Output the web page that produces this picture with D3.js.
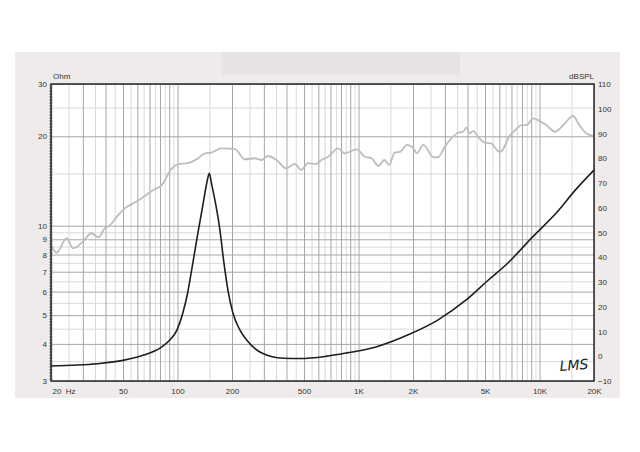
<!DOCTYPE html>
<html>
<head>
<meta charset="utf-8">
<script src="https://cdn.jsdelivr.net/npm/d3@7"></script>
<style>
  body { margin: 0; background: #fff; }
  svg { display: block; }
  .tick text { font: 8px "Liberation Sans", Arial, sans-serif; fill: #333; }
  .grid .domain { display: none; }
  .grid.major line { stroke: #a6a6a6; }
  .grid.minor line { stroke: #d9d9d9; }
  .lbl .domain, .lbl line { display: none; }
</style>
</head>
<body>
<svg width="640" height="452"></svg>
<script>
// frequency response (grey) - Hz / dBSPL
var splFreq = [20, 21.5, 24.4, 26.5, 30, 33.4, 36.6, 39.6, 42.4, 46.2, 51.2, 59.2, 65.3, 74.7, 81, 93, 101, 114, 130, 142, 154, 175, 208,
  235, 267, 291, 316, 352, 400, 444, 483, 525, 584, 624, 679, 772, 840, 976, 1085, 1180, 1285, 1390, 1475, 1585, 1700, 1850, 2010,
  2100, 2280, 2600, 2750, 3000, 3200, 3550, 3780, 3950, 4100, 4300, 4570, 4970, 5400, 5990, 6250, 6780, 7350, 7980, 8500, 9230, 9900,
  10900, 12200, 13800, 15300, 16600, 18100, 20000];
var splDb = [45, 41.8, 47.7, 43.6, 46.3, 49.7, 48.1, 51.7, 53, 56.4, 59.8, 62.4, 64.5, 67.5, 68.8, 75.9, 77.6, 78, 80, 82, 82.3, 84, 83.7,
  79.6, 80, 79.3, 80.9, 79.3, 75.9, 77.7, 75.3, 78, 77.7, 79.3, 80.6, 84, 82, 83.6, 80.6, 80, 76.9, 79.3, 77.3, 82.3, 82.6, 85.4, 84,
  82, 85.4, 80.4, 80.4, 84.7, 87.4, 90.3, 90.7, 92.5, 90.1, 91.1, 88.7, 86.3, 86, 82.6, 83.3, 88.7, 91.4, 93.4, 93.4, 96.1, 95.2,
  93.4, 90.7, 94.1, 97.1, 93.4, 90.1, 89];

// impedance (black) - Hz / Ohm
var impFreq = [20, 36, 50, 65, 80, 90.7, 99.4, 107, 114, 121, 129, 138, 145, 150, 154, 163, 171, 180.5, 190, 202, 221, 241, 294, 383, 478,
  657, 862, 1235, 1895, 2740, 3900, 5180, 6780, 9050, 12400, 15800, 20000];
var impOhm = [3.37, 3.43, 3.52, 3.67, 3.87, 4.12, 4.46, 5.08, 5.98, 7.37, 9.3, 11.7, 13.9, 15.0, 13.9, 11.7, 9.8, 7.5, 6.06, 5.1, 4.46, 4.12, 3.72, 3.58, 3.57,
  3.63, 3.73, 3.9, 4.3, 4.81, 5.6, 6.54, 7.55, 9.1, 11.05, 13.2, 15.4];

var freqTicks = [20, 50, 100, 200, 500, 1000, 2000, 5000, 10000, 20000];
var freqLabels = ["20  Hz", "50", "100", "200", "500", "1K", "2K", "5K", "10K", "20K"];
var ohmTicks = [3, 4, 5, 6, 7, 8, 9, 10, 20, 30];
var dbTicks = [-10, 0, 10, 20, 30, 40, 50, 60, 70, 80, 90, 100, 110];

var svg = d3.select("svg"),
    margin = {top: 84, right: 46, bottom: 71, left: 51},
    width = svg.attr("width") - margin.left - margin.right,
    height = svg.attr("height") - margin.top - margin.bottom;

// grey panel behind the chart
svg.append("rect").attr("x", 15).attr("y", 52).attr("width", 605).attr("height", 346).attr("fill", "#efebeb");
svg.append("rect").attr("x", 222).attr("y", 52).attr("width", 238).attr("height", 23).attr("fill", "#e7e3e3");

var g = svg.append("g").attr("transform", "translate(" + margin.left + "," + margin.top + ")");

var x = d3.scaleLog().domain([20, 20000]).range([0, width]),
    yL = d3.scaleLog().domain([3, 30]).range([height, 0]),
    yR = d3.scaleLinear().domain([-10, 110]).range([height, 0]);

g.append("rect").attr("width", width).attr("height", height).attr("fill", "#fff");

// grid values: 1..9 per decade (major) and the halves in between (minor)
var majorF = [], minorF = [];
[10, 100, 1000, 10000].forEach(function(d) {
  for (var k = 1; k <= 9; k++) {
    if (d * k >= 20 && d * k <= 20000) majorF.push(d * k);
    if (d * (k + 0.5) > 20 && d * (k + 0.5) < 20000) minorF.push(d * (k + 0.5));
  }
});
var majorO = [3, 4, 5, 6, 7, 8, 9, 10, 20, 30],
    minorO = [3.5, 4.5, 5.5, 6.5, 7.5, 8.5, 9.5, 15, 25];

g.append("g").attr("class", "grid minor").attr("transform", "translate(0," + height + ")")
  .call(d3.axisBottom(x).tickValues(minorF).tickSize(-height).tickFormat(""));
g.append("g").attr("class", "grid minor")
  .call(d3.axisLeft(yL).tickValues(minorO).tickSize(-width).tickFormat(""));
g.append("g").attr("class", "grid major").attr("transform", "translate(0," + height + ")")
  .call(d3.axisBottom(x).tickValues(majorF).tickSize(-height).tickFormat(""));
g.append("g").attr("class", "grid major")
  .call(d3.axisLeft(yL).tickValues(majorO).tickSize(-width).tickFormat(""));

// curves
var spl = splFreq.map(function(f, i) { return {f: f, v: splDb[i]}; });
var imp = impFreq.map(function(f, i) { return {f: f, v: impOhm[i]}; });

g.append("path")
  .datum(spl)
  .attr("fill", "none")
  .attr("stroke", "#bdbdbd")
  .attr("stroke-width", 1.8)
  .attr("d", d3.line().curve(d3.curveMonotoneX)
    .x(function(d) { return x(d.f); })
    .y(function(d) { return yR(d.v); }));

g.append("path")
  .datum(imp)
  .attr("fill", "none")
  .attr("stroke", "#1e1e1e")
  .attr("stroke-width", 1.6)
  .attr("d", d3.line().curve(d3.curveMonotoneX)
    .x(function(d) { return x(d.f); })
    .y(function(d) { return yL(d.v); }));

// frame
g.append("rect").attr("width", width).attr("height", height)
  .attr("fill", "none").attr("stroke", "#2a2a2a").attr("stroke-width", 1.5);
g.append("line").attr("x1", 0).attr("x2", 0).attr("y1", 0).attr("y2", height)
  .attr("stroke", "#444").attr("stroke-width", 2.5).attr("stroke-dasharray", "2,1");

// axis labels
g.append("g").attr("class", "lbl")
  .call(d3.axisLeft(yL).tickValues(ohmTicks).tickSize(0).tickPadding(4).tickFormat(d3.format("d")));
g.append("g").attr("class", "lbl").attr("transform", "translate(" + width + ",0)")
  .call(d3.axisRight(yR).tickValues(dbTicks).tickSize(0).tickPadding(4).tickFormat(d3.format("d")));
var bx = g.append("g").attr("class", "lbl").attr("transform", "translate(0," + height + ")")
  .call(d3.axisBottom(x).tickValues(freqTicks).tickSize(0).tickPadding(7)
    .tickFormat(function(d, i) { return freqLabels[i]; }));
bx.selectAll(".tick text").filter(function(d, i) { return i === 0; })
  .attr("text-anchor", "start").attr("x", 1).style("white-space", "pre");

g.append("text").attr("x", 2).attr("y", -5)
  .style("font", "8px 'Liberation Sans', Arial, sans-serif").attr("fill", "#333").text("Ohm");
g.append("text").attr("x", width).attr("y", -5).attr("text-anchor", "end")
  .style("font", "8px 'Liberation Sans', Arial, sans-serif").attr("fill", "#333").text("dBSPL");

// signature
g.append("text").attr("x", width - 34).attr("y", height - 10)
  .style("font", "italic 14px 'DejaVu Sans', sans-serif").attr("fill", "#222")
  .attr("transform", "rotate(-4," + (width - 34) + "," + (height - 10) + ")")
  .text("LMS");
</script>
</body>
</html>
